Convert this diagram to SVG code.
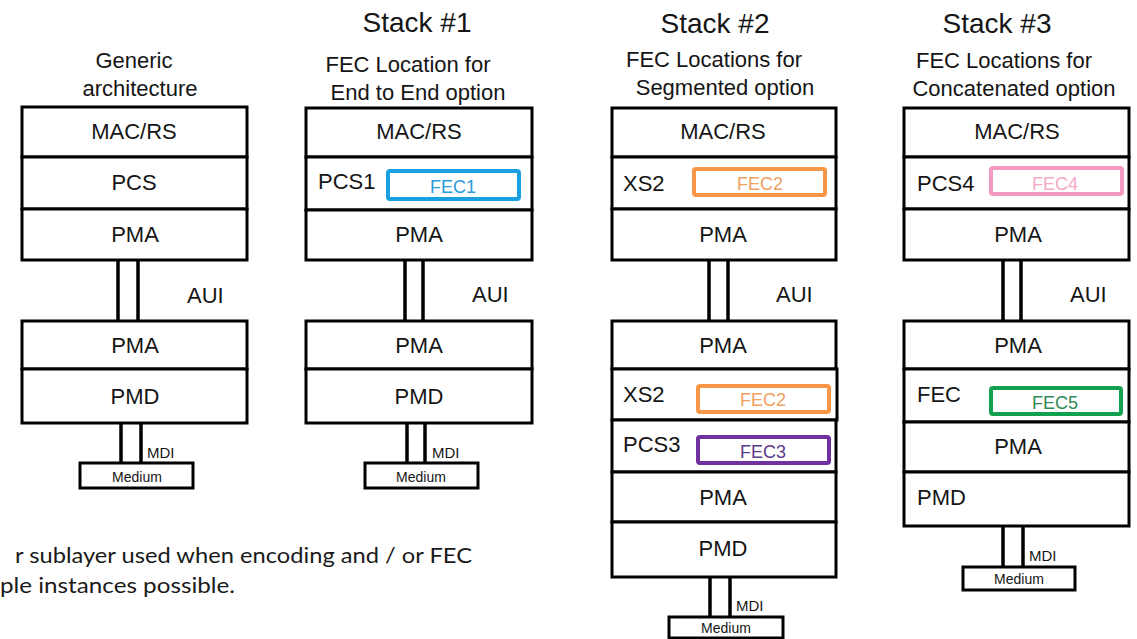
<svg xmlns="http://www.w3.org/2000/svg" width="1137" height="639" viewBox="0 0 1137 639">
  <style>
    .bg { fill: #ffffff; }
    .layer { fill: #ffffff; stroke: #000000; stroke-width: 3; }
    .medium { fill: #ffffff; stroke: #000000; stroke-width: 3; }
    .link { stroke: #000000; stroke-width: 3.5; fill: none; }
    text { font-family: "Liberation Sans", Arial, sans-serif; fill: #151515; }
    .title { font-size: 28px; text-anchor: middle; }
    .sub { font-size: 22px; text-anchor: middle; }
    .lbl { font-size: 22px; text-anchor: middle; }
    .lbl-l { font-size: 22px; }
    .aui { font-size: 22px; }
    .mdi { font-size: 15px; }
    .med { font-size: 14px; text-anchor: middle; }
    .fec { fill: #ffffff; stroke-width: 4; }
    .fect { font-size: 18px; text-anchor: middle; }
    .fec-blue { stroke: #1ba1e2; }
    .fec-orange { stroke: #f79646; }
    .fec-purple { stroke: #7030a0; }
    .fec-pink { stroke: #f49ac1; }
    .fec-green { stroke: #12a150; }
    text.t-blue { fill: #2a9ad8; }
    text.t-orange { fill: #f0a060; }
    text.t-purple { fill: #5b3a8c; }
    text.t-pink { fill: #f5a8c8; }
    text.t-green { fill: #2e8b57; }
    text.note { font-family: Lato, "Open Sans", sans-serif; font-size: 22px; fill: #1a1a1a; }
  </style>

  <rect class="bg" x="0" y="0" width="1137" height="639"/>

  <!-- column headings -->
  <g id="headings">
    <text class="sub" x="134" y="68">Generic</text>
    <text class="sub" x="140" y="96">architecture</text>

    <text class="title" x="417" y="32">Stack #1</text>
    <text class="sub" x="408" y="72">FEC Location for</text>
    <text class="sub" x="418" y="100">End to End option</text>

    <text class="title" x="715" y="33">Stack #2</text>
    <text class="sub" x="714" y="67">FEC Locations for</text>
    <text class="sub" x="725" y="95">Segmented option</text>

    <text class="title" x="997" y="33">Stack #3</text>
    <text class="sub" x="1004" y="68">FEC Locations for</text>
    <text class="sub" x="1014" y="96">Concatenated option</text>
  </g>

  <!-- interfaces between the stacked sublayers -->
  <g id="connectors">
    <!-- AUI pairs -->
    <line class="link" x1="118" y1="260" x2="118" y2="321"/>
    <line class="link" x1="138" y1="260" x2="138" y2="321"/>
    <line class="link" x1="405" y1="260" x2="405" y2="321"/>
    <line class="link" x1="423" y1="260" x2="423" y2="321"/>
    <line class="link" x1="709" y1="260" x2="709" y2="321"/>
    <line class="link" x1="728" y1="260" x2="728" y2="321"/>
    <line class="link" x1="1003" y1="260" x2="1003" y2="321"/>
    <line class="link" x1="1021" y1="260" x2="1021" y2="321"/>
    <!-- MDI pairs -->
    <line class="link" x1="121" y1="423" x2="121" y2="463"/>
    <line class="link" x1="141" y1="423" x2="141" y2="463"/>
    <line class="link" x1="407" y1="423" x2="407" y2="463"/>
    <line class="link" x1="425" y1="423" x2="425" y2="463"/>
    <line class="link" x1="710" y1="577" x2="710" y2="617"/>
    <line class="link" x1="730" y1="577" x2="730" y2="617"/>
    <line class="link" x1="1003" y1="526" x2="1003" y2="567"/>
    <line class="link" x1="1023" y1="526" x2="1023" y2="567"/>

    <text class="aui" x="187" y="303">AUI</text>
    <text class="aui" x="472" y="302">AUI</text>
    <text class="aui" x="776" y="302">AUI</text>
    <text class="aui" x="1070" y="302">AUI</text>

    <text class="mdi" x="147" y="458">MDI</text>
    <text class="mdi" x="432" y="458">MDI</text>
    <text class="mdi" x="736" y="611">MDI</text>
    <text class="mdi" x="1029" y="561">MDI</text>
  </g>

  <!-- generic architecture -->
  <g id="generic-upper">
    <rect class="layer" x="22" y="107" width="225" height="50"/>
    <rect class="layer" x="22" y="157" width="225" height="52"/>
    <rect class="layer" x="22" y="209" width="225" height="51"/>
    <text class="lbl" x="134" y="139">MAC/RS</text>
    <text class="lbl" x="134" y="190">PCS</text>
    <text class="lbl" x="135" y="242">PMA</text>
  </g>
  <g id="generic-lower">
    <rect class="layer" x="22" y="321" width="225" height="48"/>
    <rect class="layer" x="22" y="369" width="225" height="54"/>
    <text class="lbl" x="135" y="353">PMA</text>
    <text class="lbl" x="135" y="404">PMD</text>
  </g>
  <g id="generic-medium">
    <rect class="medium" x="80" y="463" width="113" height="25"/>
    <text class="med" x="137" y="482">Medium</text>
  </g>

  <!-- stack 1 -->
  <g id="stack1-upper">
    <rect class="layer" x="306" y="108" width="226" height="49"/>
    <rect class="layer" x="306" y="157" width="226" height="53"/>
    <rect class="layer" x="306" y="210" width="226" height="50"/>
    <text class="lbl" x="419" y="139">MAC/RS</text>
    <text class="lbl-l" x="318" y="189">PCS1</text>
    <rect class="fec fec-blue" x="388" y="171" width="131" height="28" rx="2"/>
    <text class="fect t-blue" x="453" y="193">FEC1</text>
    <text class="lbl" x="419" y="242">PMA</text>
  </g>
  <g id="stack1-lower">
    <rect class="layer" x="306" y="321" width="226" height="48"/>
    <rect class="layer" x="306" y="369" width="226" height="54"/>
    <text class="lbl" x="419" y="353">PMA</text>
    <text class="lbl" x="419" y="404">PMD</text>
  </g>
  <g id="stack1-medium">
    <rect class="medium" x="365" y="463" width="113" height="25"/>
    <text class="med" x="421" y="482">Medium</text>
  </g>

  <!-- stack 2 -->
  <g id="stack2-upper">
    <rect class="layer" x="612" y="108" width="224" height="49"/>
    <rect class="layer" x="612" y="157" width="224" height="52"/>
    <rect class="layer" x="612" y="209" width="224" height="51"/>
    <text class="lbl" x="723" y="139">MAC/RS</text>
    <text class="lbl-l" x="623" y="191">XS2</text>
    <rect class="fec fec-orange" x="694" y="169" width="131" height="26" rx="2"/>
    <text class="fect t-orange" x="760" y="190">FEC2</text>
    <text class="lbl" x="723" y="242">PMA</text>
  </g>
  <g id="stack2-lower">
    <rect class="layer" x="612" y="321" width="224" height="48"/>
    <rect class="layer" x="612" y="369" width="225" height="51"/>
    <rect class="layer" x="612" y="420" width="224" height="52"/>
    <rect class="layer" x="612" y="472" width="224" height="50"/>
    <rect class="layer" x="612" y="522" width="224" height="55"/>
    <text class="lbl" x="723" y="353">PMA</text>
    <text class="lbl-l" x="623" y="402">XS2</text>
    <rect class="fec fec-orange" x="698" y="386" width="131" height="26" rx="2"/>
    <text class="fect t-orange" x="763" y="406">FEC2</text>
    <text class="lbl-l" x="623" y="452">PCS3</text>
    <rect class="fec fec-purple" x="698" y="437" width="131" height="26" rx="2"/>
    <text class="fect t-purple" x="763" y="458">FEC3</text>
    <text class="lbl" x="723" y="505">PMA</text>
    <text class="lbl" x="723" y="556">PMD</text>
  </g>
  <g id="stack2-medium">
    <rect class="medium" x="669" y="617" width="114" height="21"/>
    <text class="med" x="726" y="633">Medium</text>
  </g>

  <!-- stack 3 -->
  <g id="stack3-upper">
    <rect class="layer" x="904" y="108" width="225" height="49"/>
    <rect class="layer" x="904" y="157" width="225" height="52"/>
    <rect class="layer" x="904" y="209" width="225" height="51"/>
    <text class="lbl" x="1017" y="139">MAC/RS</text>
    <text class="lbl-l" x="917" y="191">PCS4</text>
    <rect class="fec fec-pink" x="991" y="168" width="131" height="26" rx="2"/>
    <text class="fect t-pink" x="1055" y="190">FEC4</text>
    <text class="lbl" x="1018" y="242">PMA</text>
  </g>
  <g id="stack3-lower">
    <rect class="layer" x="904" y="321" width="225" height="48"/>
    <rect class="layer" x="904" y="369" width="225" height="53"/>
    <rect class="layer" x="904" y="422" width="225" height="50"/>
    <rect class="layer" x="904" y="472" width="225" height="54"/>
    <text class="lbl" x="1018" y="353">PMA</text>
    <text class="lbl-l" x="917" y="402">FEC</text>
    <rect class="fec fec-green" x="991" y="388" width="130" height="26" rx="2"/>
    <text class="fect t-green" x="1055" y="409">FEC5</text>
    <text class="lbl" x="1018" y="454">PMA</text>
    <text class="lbl-l" x="917" y="505">PMD</text>
  </g>
  <g id="stack3-medium">
    <rect class="medium" x="963" y="567" width="112" height="23"/>
    <text class="med" x="1019" y="584">Medium</text>
  </g>

  <!-- footnote -->
  <g id="footnote">
    <text class="note" x="15" y="563" textLength="457" lengthAdjust="spacingAndGlyphs">r sublayer used when encoding and / or FEC</text>
    <text class="note" x="0" y="593" textLength="235" lengthAdjust="spacingAndGlyphs">ple instances possible.</text>
  </g>
</svg>
